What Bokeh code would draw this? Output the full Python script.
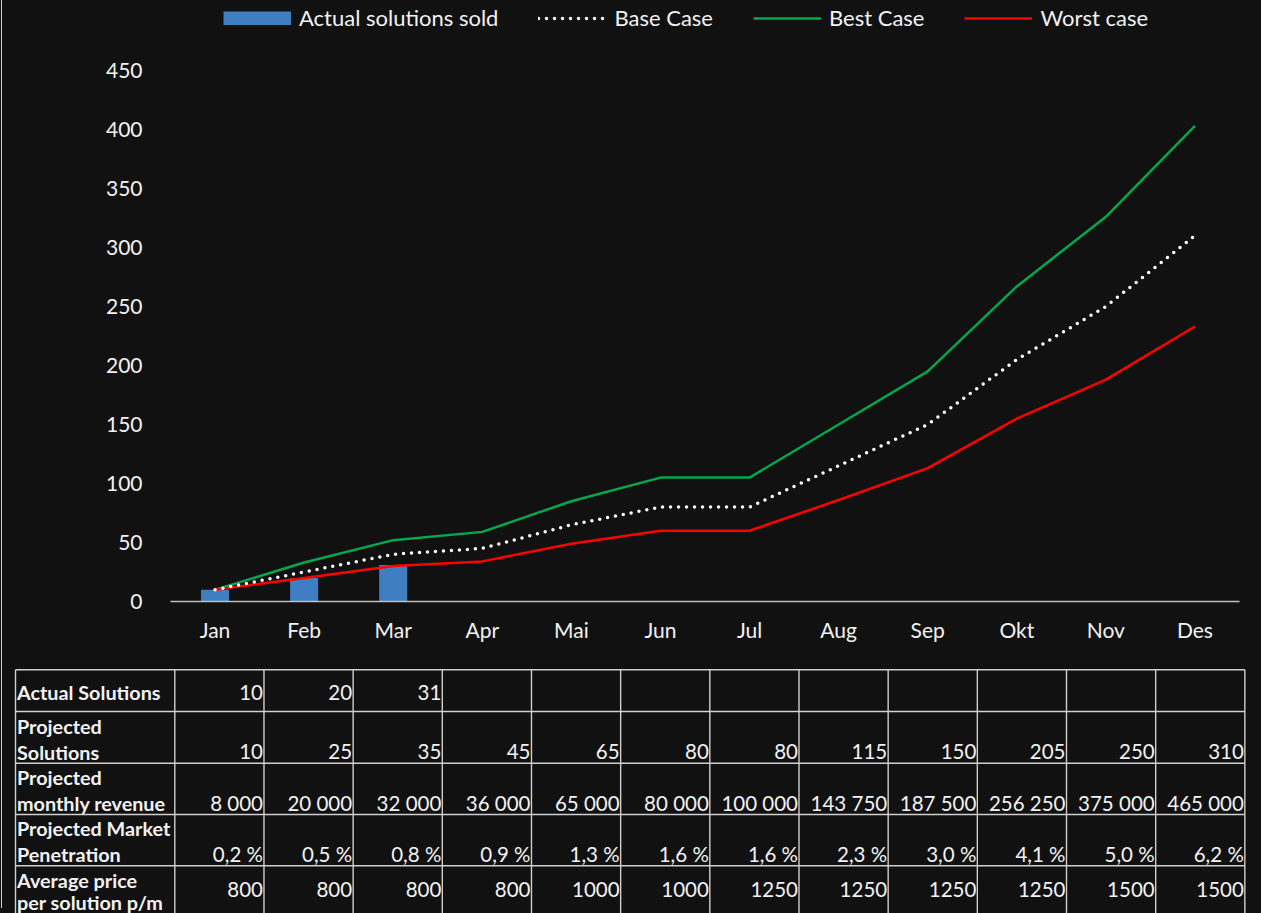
from bokeh.plotting import figure
from bokeh.models import FactorRange, Range1d, FixedTicker, Legend, LegendItem, Div
from bokeh.layouts import column, row
from bokeh.embed import file_html
from bokeh.resources import INLINE
from bokeh.core.properties import value

# ---------------- data ----------------
months = ["Jan", "Feb", "Mar", "Apr", "Mai", "Jun", "Jul", "Aug", "Sep", "Okt", "Nov", "Des"]
actual_sold = [10, 20, 31]
base_case = [10, 25, 40, 45, 65, 80, 80, 115, 150, 205, 250, 310]
best_case = [10, 33, 52, 59, 85, 105, 105, 150, 195, 267, 326, 403]
worst_case = [10, 20, 30, 34, 49, 60, 60, 86, 113, 155, 188, 233]
y_ticks = [0, 50, 100, 150, 200, 250, 300, 350, 400, 450]

row_labels = [["Actual Solutions"],
              ["Projected", "Solutions"],
              ["Projected", "monthly revenue"],
              ["Projected Market", "Penetration"],
              ["Average price", "per solution p/m"]]
actual_solutions = [10, 20, 31]
projected_solutions = [10, 25, 35, 45, 65, 80, 80, 115, 150, 205, 250, 310]
monthly_revenue = [8000, 20000, 32000, 36000, 65000, 80000, 100000, 143750, 187500, 256250, 375000, 465000]
market_penetration = [0.2, 0.5, 0.8, 0.9, 1.3, 1.6, 1.6, 2.3, 3.0, 4.1, 5.0, 6.2]
avg_price = [800, 800, 800, 800, 1000, 1000, 1250, 1250, 1250, 1250, 1500, 1500]

# ---------------- style ----------------
BG = "#111111"
TXT = "#f2f2f2"
FONT = "Lato"
BLUE = "#3F7EC0"
GREEN = "#00A84F"
RED = "#FF0000"

EDGE = 2          # thin light edge line at the far left
W = 1261 - EDGE
CH = 660          # chart height
TH = 253          # table height

# ---------------- chart ----------------
p = figure(x_range=FactorRange(factors=months, range_padding=0),
           y_range=Range1d(0, 509.3),
           width=W, height=CH, output_backend="svg", toolbar_location=None,
           background_fill_color=BG, border_fill_color=BG, outline_line_color=None,
           min_border_left=170 - EDGE, min_border_right=22, min_border_top=0, min_border_bottom=59,
           styles={"background-color": BG})

r_bar = p.vbar(x=months[:len(actual_sold)], top=actual_sold, width=0.315,
               fill_color=BLUE, line_color=None)
r_best = p.line(x=months, y=best_case, line_color=GREEN, line_width=2.5)
r_worst = p.line(x=months, y=worst_case, line_color=RED, line_width=2.5)
r_base = p.line(x=months, y=base_case, line_color="white", line_width=3.5,
                line_dash="0 8", line_cap="round")
# swatch used only by the legend for the bar series (draws nothing in the plot)
r_bar_key = p.line(x=months[:1], y=[float("nan")], line_color=BLUE, line_width=14, line_cap="butt")

p.xgrid.visible = False
p.ygrid.visible = False

p.yaxis.ticker = FixedTicker(ticks=y_ticks)
p.yaxis.axis_line_color = None
p.yaxis.major_tick_line_color = None
p.yaxis.minor_tick_line_color = None
p.yaxis.major_label_standoff = 22
p.yaxis.major_label_text_font = FONT
p.yaxis.major_label_text_font_size = "21px"
p.yaxis.major_label_text_color = TXT

p.xaxis.axis_line_color = "#bfbfbf"
p.xaxis.axis_line_width = 1.5
p.xaxis.major_tick_line_color = None
p.xaxis.minor_tick_line_color = None
p.xaxis.major_label_standoff = 9
p.xaxis.major_label_text_font = FONT
p.xaxis.major_label_text_font_size = "21px"
p.xaxis.major_label_text_color = TXT

legend = Legend(items=[LegendItem(label="Actual solutions sold", renderers=[r_bar, r_bar_key]),
                       LegendItem(label="Base Case", renderers=[r_base]),
                       LegendItem(label="Best Case", renderers=[r_best]),
                       LegendItem(label="Worst case", renderers=[r_worst])],
                orientation="horizontal", location=(53, 570),
                glyph_width=68, glyph_height=14, label_standoff=8, spacing=40,
                padding=0, margin=0, border_line_color=None, background_fill_alpha=0,
                label_text_color=TXT, label_text_font=FONT, label_text_font_size="22px",
                label_height=26)
p.add_layout(legend)

# ---------------- table ----------------
t = figure(x_range=Range1d(0, W), y_range=Range1d(TH, 0), width=W, height=TH,
           output_backend="svg", toolbar_location=None,
           background_fill_color=BG, border_fill_color=BG, outline_line_color=None,
           min_border=0, x_axis_location=None, y_axis_location=None,
           styles={"background-color": BG})
t.xgrid.visible = False
t.ygrid.visible = False

for fig in (p, t):
    if "frame_align" in fig.properties():
        fig.frame_align = False

left = 15.0 - EDGE
label_w = 159.3
col_w = 89.17
col_edges = [left] + [left + label_w + i * col_w for i in range(len(months) + 1)]
row_edges = [9.3, 51.0, 102.7, 154.0, 205.3, 256.6]

t.segment(x0=[col_edges[0]] * len(row_edges), x1=[col_edges[-1]] * len(row_edges),
          y0=row_edges, y1=row_edges, line_color="#cfcfcf", line_width=1.4)
t.segment(x0=col_edges, x1=col_edges, y0=[row_edges[0]] * len(col_edges),
          y1=[row_edges[-1]] * len(col_edges), line_color="#cfcfcf", line_width=1.4)

# row label line positions and value positions (layout)
label_line_y = [[31.0], [65.7, 91.0], [116.7, 142.7], [167.7, 193.0], [219.0, 241.0]]
value_y = [32.3, 91.0, 142.7, 193.0, 229.0]

lx, ly, lt = [], [], []
for lines, ys in zip(row_labels, label_line_y):
    for s, yy in zip(lines, ys):
        lx.append(left + 1.5)
        ly.append(yy)
        lt.append(s)
t.text(x=lx, y=ly, text=lt, text_color=TXT, text_font=value(FONT),
       text_font_style="bold", text_font_size="19.8px",
       text_align="left", text_baseline="middle")

fmt_rows = [
    [str(v) for v in actual_solutions],
    [str(v) for v in projected_solutions],
    [f"{v:,}".replace(",", " ") for v in monthly_revenue],
    [f"{v:.1f} %".replace(".", ",") for v in market_penetration],
    [str(v) for v in avg_price],
]
vx, vy, vt = [], [], []
for r, vals in enumerate(fmt_rows):
    for i, s in enumerate(vals):
        vx.append(col_edges[i + 2] - 1.0)
        vy.append(value_y[r])
        vt.append(s)
t.text(x=vx, y=vy, text=vt, text_color=TXT, text_font=value(FONT),
       text_font_size="20.5px", text_align="right", text_baseline="middle")

edge = Div(text="", width=EDGE, height=908, margin=0,
           styles={"background": "linear-gradient(to right, #111111 0px, #111111 1px, #d0d0d0 1px, #d0d0d0 2px)",
                   "padding": "0px"})

layout = row(edge, column(p, t, styles={"background-color": BG}),
             styles={"background-color": BG})
open("out.html", "w").write(file_html(layout, INLINE))
